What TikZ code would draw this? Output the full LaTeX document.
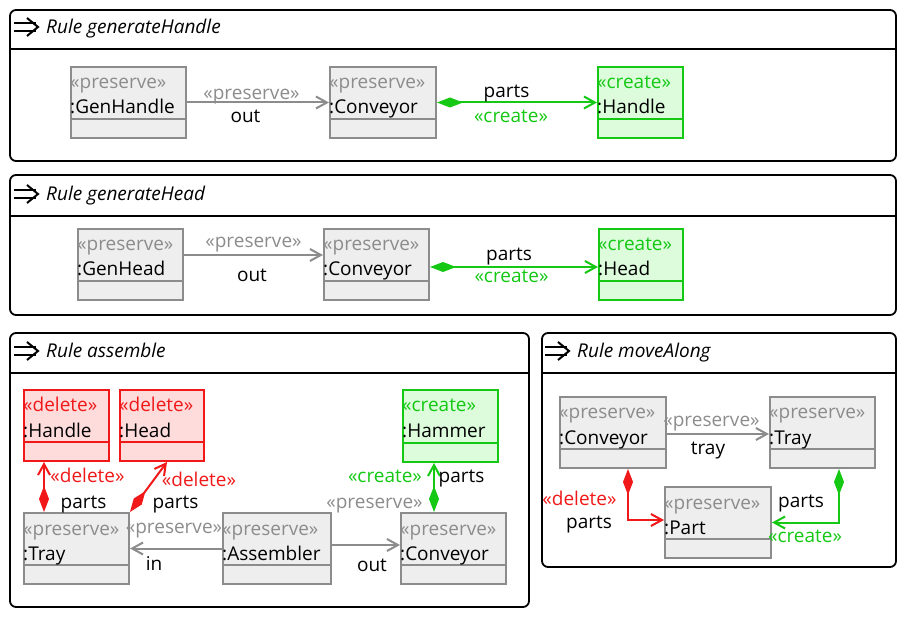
\documentclass[tikz,border=0pt]{standalone}
\usepackage{fontspec}
\setmainfont{Open Sans}
\usetikzlibrary{arrows.meta,calc}

\definecolor{preservecol}{HTML}{8C8C8C}
\definecolor{preservefill}{HTML}{EEEEEE}
\definecolor{deletecol}{HTML}{F01818}
\definecolor{deletefill}{HTML}{FFDCDC}
\definecolor{createcol}{HTML}{14C814}
\definecolor{createfill}{HTML}{DCFCDC}

\newcommand{\diagfont}{\fontsize{19}{23}\selectfont}

% object box: kind, name, north west corner, width, height, object name
\newcommand{\umlobj}[6]{%
  \node [objbox=#1, minimum width=#4, minimum height=#5, anchor=north west] (#2) at (#3) {};
  \node [stereo=#1col] at ([xshift=0, yshift=-23]#2.north west) {«#1»};
  \node [stereo=black] at ([xshift=0, yshift=-48]#2.north west) {#6};
}
% rule frame title with its arrow icon
\newcommand{\ruletitle}[4]{%
  \draw [icon] ($(#2,#3)+(0,-11)$) -- ++(22,0) ($(#2,#3)+(0,-3)$) -- ++(22,0);
  \draw [icon] ($(#2,#3)+(13,-16)$) -- ++(11,9) -- ++(-11,9);
  \node [title, anchor=base west] (#1) at ($(#2,#3)+(32,0)$) {Rule #4};
}

\begin{document}
\begin{tikzpicture}[x=1pt, y=-1pt,
    objbox/.style={draw=#1col, fill=#1fill, line width=2pt, inner sep=0pt,
      path picture={\draw [#1col, line width=2pt] ([yshift=19pt]path picture bounding box.south west) -- ([yshift=19pt]path picture bounding box.south east);}},
    stereo/.style={text=#1, inner sep=0pt, font=\diagfont, anchor=base west},
    lbl/.style={text=#1, inner sep=0pt, font=\diagfont, anchor=base},
    lbl/.default=black,
    title/.style={inner sep=0pt, font=\diagfont\itshape},
    frame/.style={draw=black, line width=1.8pt, rounded corners=6pt},
    icon/.style={draw=black, line width=2pt},
    link/.style={draw=#1, line width=2pt, -{Straight Barb[length=11pt, width=12pt]}},
    part/.style={draw=#1, line width=2pt, {Diamond[length=26pt, width=10pt, #1]}-{Straight Barb[length=11pt, width=12pt]}}
  ]
  \useasboundingbox (0,0) rectangle (913,617);

  % frames
  \draw [frame] (10,10) rectangle (896,161);
  \draw [draw=black, line width=1.8pt] (10,49) -- (896,49);
  \draw [frame] (10,175) rectangle (896,315);
  \draw [draw=black, line width=1.8pt] (10,216) -- (896,216);
  \draw [frame] (10,333) rectangle (529,607);
  \draw [draw=black, line width=1.8pt] (10,373) -- (529,373);
  \draw [frame] (542,333) rectangle (896,567);
  \draw [draw=black, line width=1.8pt] (542,373) -- (896,373);

  \ruletitle{t1}{14}{34}{generateHandle}
  \ruletitle{t2}{14}{201}{generateHead}
  \ruletitle{t3}{14}{358}{assemble}
  \ruletitle{t4}{545}{358}{moveAlong}

  % generateHandle
  \umlobj{preserve}{genhandle}{70,66}{115}{71}{:GenHandle}
  \umlobj{preserve}{conv1}{329,66}{106}{71}{:Conveyor}
  \umlobj{create}{handle1}{597,66}{85}{71}{:Handle}
  \path [link=preservecol] (genhandle.east) -- (conv1.west);
  \path [part=createcol] (conv1.east) -- (handle1.west);
  \node [lbl=preservecol] (l1a) at (251.5,100) {«preserve»};
  \node [lbl] (l1b) at (245.5,123) {out};
  \node [lbl] (l1c) at (506.5,98) {parts};
  \node [lbl=createcol] (l1d) at (511,123) {«create»};

  % generateHead
  \umlobj{preserve}{genhead}{77,228}{105}{71}{:GenHead}
  \umlobj{preserve}{conv2}{323,228}{105}{71}{:Conveyor}
  \umlobj{create}{head2}{598,228}{84}{71}{:Head}
  \path [link=preservecol] ([yshift=9.5]genhead.east) -- ([yshift=9.5]conv2.west);
  \path [part=createcol] ([yshift=-2.5]conv2.east) -- ([yshift=-2.5]head2.west);
  \node [lbl=preservecol] (l2a) at (253.5,248) {«preserve»};
  \node [lbl] (l2b) at (252,282) {out};
  \node [lbl] (l2c) at (509,261) {parts};
  \node [lbl=createcol] (l2d) at (511.5,283) {«create»};

  % assemble
  \umlobj{delete}{handle3}{23,389}{85}{71}{:Handle}
  \umlobj{delete}{head3}{119,389}{84}{71}{:Head}
  \umlobj{create}{hammer}{402,389}{95}{72}{:Hammer}
  \umlobj{preserve}{tray3}{23,512}{105}{71}{:Tray}
  \umlobj{preserve}{assembler}{222,512}{108}{71}{:Assembler}
  \umlobj{preserve}{conv3}{400,512}{105}{71}{:Conveyor}
  \path [part=deletecol] ([xshift=21]tray3.north west) -- ([xshift=21]handle3.south west);
  \path [part=deletecol] (tray3.north east) -- ([xshift=5]head3.south);
  \path [link=preservecol] (assembler.west) -- (tray3.east);
  \path [link=preservecol] ([yshift=3.5]assembler.east) -- ([yshift=3.5]conv3.west);
  \path [part=createcol] ([xshift=34]conv3.north west) -- ([xshift=32]hammer.south west);
  \node [lbl=deletecol] (l3a) at (87.5,482) {«delete»};
  \node [lbl] (l3b) at (83.5,508) {parts};
  \node [lbl=deletecol] (l3c) at (199,486) {«delete»};
  \node [lbl] (l3d) at (175.5,508) {parts};
  \node [lbl=preservecol] (l3e) at (174,533) {«preserve»};
  \node [lbl] (l3f) at (154,570) {in};
  \node [lbl] (l3g) at (372,571) {out};
  \node [lbl=preservecol] (l3h) at (374.5,508) {«preserve»};
  \node [lbl=createcol] (l3i) at (385,482) {«create»};
  \node [lbl] (l3j) at (461.5,482) {parts};

  % moveAlong
  \umlobj{preserve}{conv4}{559,396}{106}{71}{:Conveyor}
  \umlobj{preserve}{tray4}{769,396}{105}{71}{:Tray}
  \umlobj{preserve}{part4}{664,486}{106}{71}{:Part}
  \path [link=preservecol] ([yshift=-1.5]conv4.east) -- ([yshift=-1.5]tray4.west);
  \path [part=deletecol] ([xshift=15]conv4.south) |- ([yshift=2.5]part4.west);
  \path [part=createcol] ([xshift=16.5]tray4.south) |- (part4.east);
  \node [lbl=preservecol] (l4a) at (711.5,427) {«preserve»};
  \node [lbl] (l4b) at (708,454) {tray};
  \node [lbl=deletecol] (l4c) at (579.5,505) {«delete»};
  \node [lbl] (l4d) at (589,528) {parts};
  \node [lbl] (l4e) at (801,507) {parts};
  \node [lbl=createcol] (l4f) at (805,542) {«create»};
\end{tikzpicture}
\end{document}
